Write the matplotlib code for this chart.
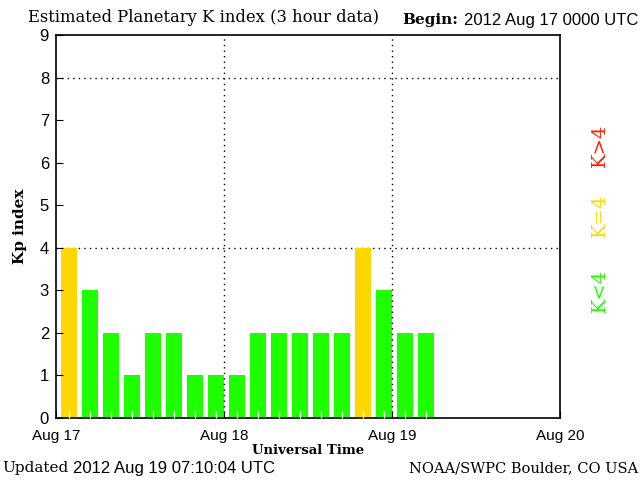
import matplotlib
matplotlib.use("Agg")
import matplotlib.pyplot as plt
import numpy as np

# 3-hour Kp values starting 2012 Aug 17 0000 UTC
kp = [4, 3, 2, 1, 2, 2, 1, 1,
      1, 2, 2, 2, 2, 2, 4, 3,
      2, 2]
day_labels = ["Aug 17", "Aug 18", "Aug 19", "Aug 20"]
day_hours = [0, 24, 48, 72]

green = "#1eff00"
gold = "#ffd700"
red = "#ff2000"

serif = "DejaVu Serif"
sans = "Liberation Sans"

hours = np.arange(len(kp)) * 3
colors = [red if k > 4 else gold if k == 4 else green for k in kp]

fig = plt.figure(figsize=(6.4, 4.8), dpi=100)
ax = fig.add_axes([56 / 640, 62 / 480, 504 / 640, 383 / 480])

ax.bar(hours + 0.72, kp, width=2.28, align="edge", color=colors, zorder=1)

ax.set_xlim(0, 72)
ax.set_ylim(0, 9)
ax.set_xticks(day_hours)
ax.set_xticklabels(day_labels, fontfamily=sans, fontsize=11)
ax.set_xticks(hours + 1.86, minor=True)
ax.set_yticks(range(10))
ax.set_yticklabels([str(i) for i in range(10)], fontfamily=sans, fontsize=12)
ax.tick_params(axis="both", which="major", direction="in", length=5, color="black")
ax.tick_params(axis="x", which="minor", direction="in", length=5, color="white", width=1)
ax.tick_params(axis="x", which="major", pad=8)
ax.tick_params(axis="y", which="major", pad=5)
ax.set_axisbelow(False)

for h in [24, 48]:
    ax.axvline(h, color="black", linestyle=(0, (1, 3)), linewidth=1, zorder=2)
for y in [4, 8]:
    ax.axhline(y, color="black", linestyle=(0, (1, 3)), linewidth=1, zorder=0.5)

for s in ax.spines.values():
    s.set_linewidth(1.2)

ax.set_xlabel("Universal Time", fontfamily=serif, fontweight="bold", fontsize=9.5, labelpad=1)
ax.set_ylabel("Kp index", fontfamily=serif, fontweight="bold", fontsize=11, labelpad=9)

fig.text(28 / 640, 1 - 18 / 480, "Estimated Planetary K index (3 hour data)",
         fontfamily=serif, fontsize=11.8, va="center")
fig.text(402 / 640, 1 - 20 / 480, "Begin:", fontfamily=serif, fontweight="bold",
         fontsize=11, va="center")
fig.text(464 / 640, 1 - 20 / 480, "2012 Aug 17 0000 UTC", fontfamily=sans,
         fontsize=12, va="center")

fig.text(2 / 640, 1 - 468 / 480, "Updated", fontfamily=serif, fontsize=11, va="center")
fig.text(73 / 640, 1 - 468 / 480, "2012 Aug 19 07:10:04 UTC", fontfamily=sans,
         fontsize=12, va="center")
fig.text(638 / 640, 1 - 468 / 480, "NOAA/SWPC Boulder, CO USA", fontfamily=serif,
         fontsize=10.5, va="center", ha="right")

fig.text(600 / 640, 1 - 290 / 480, "K<4", color=green, rotation=90,
         fontfamily=serif, fontsize=14, ha="center", va="center")
fig.text(600 / 640, 1 - 215 / 480, "K=4", color=gold, rotation=90,
         fontfamily=serif, fontsize=14, ha="center", va="center")
fig.text(600 / 640, 1 - 145 / 480, "K>4", color=red, rotation=90,
         fontfamily=serif, fontsize=14, ha="center", va="center")

fig.savefig("out.png", dpi=100, facecolor="white")
